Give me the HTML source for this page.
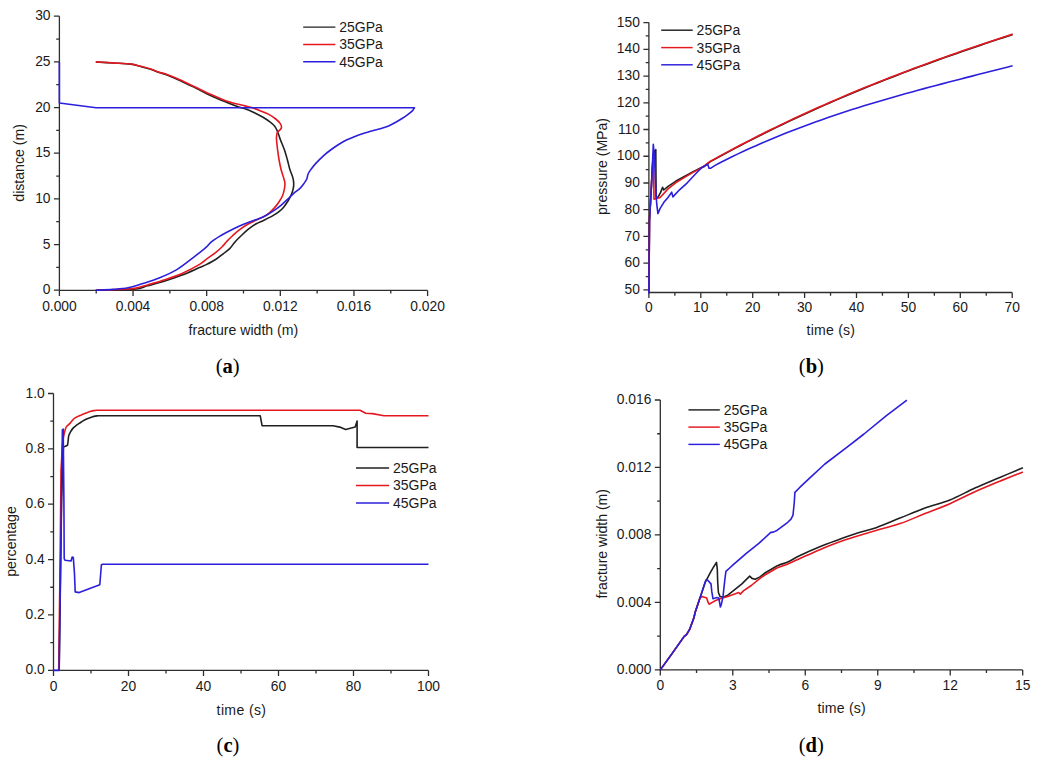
<!DOCTYPE html><html><head><meta charset="utf-8"><style>html,body{margin:0;padding:0;background:#fff;}svg{display:block}text{font-family:"Liberation Sans", sans-serif;fill:#1a1a1a}</style></head><body>
<svg width="1042" height="768" viewBox="0 0 1042 768">
<path d="M59.4,16.2 L59.4,290.4 L427.6,290.4 M59.4,290.4 v5.5 M133.04,290.4 v5.5 M206.68,290.4 v5.5 M280.32,290.4 v5.5 M353.96,290.4 v5.5 M427.6,290.4 v5.5 M96.22,290.4 v3.2 M169.86,290.4 v3.2 M243.5,290.4 v3.2 M317.14,290.4 v3.2 M390.78,290.4 v3.2 M59.4,290.2 h-5.5 M59.4,244.53 h-5.5 M59.4,198.87 h-5.5 M59.4,153.2 h-5.5 M59.4,107.53 h-5.5 M59.4,61.87 h-5.5 M59.4,16.2 h-5.5 M59.4,267.37 h-3.2 M59.4,221.7 h-3.2 M59.4,176.03 h-3.2 M59.4,130.37 h-3.2 M59.4,84.7 h-3.2 M59.4,39.03 h-3.2" fill="none" stroke="#2e2e2e" stroke-width="1.3"/>
<text x="59.4" y="310.7" text-anchor="middle" font-size="13.8" >0.000</text>
<text x="133.04" y="310.7" text-anchor="middle" font-size="13.8" >0.004</text>
<text x="206.68" y="310.7" text-anchor="middle" font-size="13.8" >0.008</text>
<text x="280.32" y="310.7" text-anchor="middle" font-size="13.8" >0.012</text>
<text x="353.96" y="310.7" text-anchor="middle" font-size="13.8" >0.016</text>
<text x="427.6" y="310.7" text-anchor="middle" font-size="13.8" >0.020</text>
<text x="50.5" y="294.3" text-anchor="end" font-size="13.8" >0</text>
<text x="50.5" y="248.63" text-anchor="end" font-size="13.8" >5</text>
<text x="50.5" y="202.97" text-anchor="end" font-size="13.8" >10</text>
<text x="50.5" y="157.3" text-anchor="end" font-size="13.8" >15</text>
<text x="50.5" y="111.63" text-anchor="end" font-size="13.8" >20</text>
<text x="50.5" y="65.97" text-anchor="end" font-size="13.8" >25</text>
<text x="50.5" y="20.3" text-anchor="end" font-size="13.8" >30</text>
<path d="M95.8,62 C98.67,62.17 107.18,62.65 113,63 C118.82,63.35 126.22,63.55 130.7,64.1 C135.18,64.65 136.7,65.47 139.9,66.3 C143.1,67.13 146.7,68.05 149.9,69.1 C153.1,70.15 156.58,71.75 159.1,72.6 C161.62,73.45 161.45,72.85 165,74.2 C168.55,75.55 175.28,78.4 180.4,80.7 C185.52,83 190.58,85.5 195.7,88 C200.82,90.5 205.98,93.33 211.1,95.7 C216.22,98.07 221.8,100.33 226.4,102.2 C231,104.07 235.47,105.78 238.7,106.9 C241.93,108.02 243.18,107.93 245.8,108.9 C248.42,109.87 251.53,111.3 254.4,112.7 C257.27,114.1 260.42,115.77 263,117.3 C265.58,118.83 267.98,120.47 269.9,121.9 C271.82,123.33 273.35,124.57 274.5,125.9 C275.65,127.23 276.12,128.47 276.8,129.9 C277.48,131.33 277.98,132.82 278.6,134.5 C279.22,136.18 279.53,137.45 280.5,140 C281.47,142.55 283.27,146.55 284.4,149.8 C285.53,153.05 286.4,156.25 287.3,159.5 C288.2,162.75 288.9,166.37 289.8,169.3 C290.7,172.23 292.05,174.82 292.7,177.1 C293.35,179.38 293.62,181.05 293.7,183 C293.78,184.95 293.61,186.85 293.2,188.8 C292.79,190.75 292.07,192.75 291.25,194.7 C290.43,196.65 289.61,198.38 288.3,200.5 C286.99,202.62 284.9,205.6 283.4,207.4 C281.9,209.2 280.98,209.97 279.3,211.3 C277.62,212.63 275.85,213.92 273.3,215.4 C270.75,216.88 266.84,218.81 264,220.2 C261.16,221.59 258.85,222.25 256.25,223.75 C253.65,225.25 250.88,227.24 248.4,229.2 C245.93,231.16 243.6,233.42 241.4,235.5 C239.2,237.58 237.15,239.52 235.2,241.7 C233.25,243.88 231.67,246.62 229.7,248.6 C227.73,250.58 225.75,251.78 223.4,253.6 C221.05,255.42 218.46,257.67 215.6,259.5 C212.74,261.33 208.95,263.25 206.25,264.6 C203.55,265.95 203.43,265.85 199.4,267.6 C195.38,269.35 187.85,272.88 182.1,275.1 C176.35,277.32 170.65,279.12 164.9,280.9 C159.15,282.68 152.42,284.45 147.6,285.8 C142.78,287.15 141.27,288.3 136,289 C130.73,289.7 122.7,289.78 116,290 C109.3,290.22 99.17,290.25 95.8,290.3" fill="none" stroke="#202020" stroke-width="1.6" stroke-linejoin="round" stroke-linecap="butt"/>
<path d="M95.8,61.9 C98.67,62.07 107.18,62.55 113,62.9 C118.82,63.25 126.22,63.47 130.7,64 C135.18,64.53 136.7,65.3 139.9,66.1 C143.1,66.9 146.7,67.77 149.9,68.8 C153.1,69.83 156.58,71.47 159.1,72.3 C161.62,73.13 161.45,72.52 165,73.8 C168.55,75.08 175.28,77.75 180.4,80 C185.52,82.25 190.58,84.87 195.7,87.3 C200.82,89.73 205.98,92.3 211.1,94.6 C216.22,96.9 222.25,99.57 226.4,101.1 C230.55,102.63 232.9,103 236,103.8 C239.1,104.6 242.42,105.27 245,105.9 C247.58,106.53 248.98,106.8 251.5,107.6 C254.02,108.4 257.22,109.57 260.1,110.7 C262.98,111.83 266.2,113.02 268.8,114.4 C271.4,115.78 273.78,117.47 275.7,119 C277.62,120.53 279.33,122.2 280.3,123.6 C281.27,125 281.57,126.35 281.5,127.4 C281.43,128.45 280.58,129.08 279.9,129.9 C279.22,130.72 277.97,131.15 277.4,132.3 C276.83,133.45 276.63,135.43 276.5,136.8 C276.37,138.17 276.42,138.33 276.6,140.5 C276.78,142.67 277.2,146.63 277.6,149.8 C278,152.97 278.43,156.25 279,159.5 C279.57,162.75 280.27,166.37 281,169.3 C281.73,172.23 282.75,174.82 283.4,177.1 C284.05,179.38 284.73,181.05 284.9,183 C285.07,184.95 284.8,186.68 284.4,188.8 C284,190.92 283.47,193.42 282.5,195.7 C281.53,197.98 279.92,200.52 278.6,202.5 C277.28,204.48 276.24,205.78 274.6,207.6 C272.96,209.42 270.77,211.77 268.75,213.4 C266.73,215.03 264.84,216.17 262.5,217.4 C260.16,218.63 257.3,219.58 254.7,220.8 C252.1,222.02 249.52,223.15 246.9,224.7 C244.28,226.25 241.35,228.3 239,230.1 C236.65,231.9 234.75,233.7 232.8,235.5 C230.85,237.3 229.12,238.98 227.3,240.9 C225.48,242.82 223.85,245.05 221.9,247 C219.95,248.95 217.95,250.75 215.6,252.6 C213.25,254.45 210.47,256.13 207.8,258.1 C205.13,260.07 203.88,261.85 199.6,264.4 C195.32,266.95 187.88,270.85 182.1,273.4 C176.32,275.95 170.65,277.78 164.9,279.7 C159.15,281.62 152.42,283.5 147.6,284.9 C142.78,286.3 139.85,287.4 136,288.1 C132.15,288.8 131.2,288.73 124.5,289.1 C117.8,289.47 100.58,290.1 95.8,290.3" fill="none" stroke="#e5171f" stroke-width="1.6" stroke-linejoin="round" stroke-linecap="butt"/>
<path d="M59.4,62 L59.4,103 L96.1,107.7 L414.5,107.7 L414.5,107.7 C414.1,108.27 413.28,109.92 412.1,111.1 C410.92,112.28 409.08,113.57 407.4,114.8 C405.72,116.03 404.02,117.22 402,118.5 C399.98,119.78 397.53,121.27 395.3,122.5 C393.07,123.73 390.83,124.95 388.6,125.9 C386.37,126.85 384.13,127.53 381.9,128.2 C379.67,128.87 377.45,129.28 375.2,129.9 C372.95,130.52 370.65,131.22 368.4,131.9 C366.15,132.58 363.93,133.23 361.7,134 C359.47,134.77 357.47,135.53 355,136.5 C352.53,137.47 349.57,138.52 346.9,139.8 C344.23,141.08 341.61,142.58 339,144.2 C336.39,145.82 333.85,147.57 331.25,149.5 C328.65,151.43 326.01,153.45 323.4,155.8 C320.79,158.15 317.8,161.17 315.6,163.6 C313.4,166.03 311.48,168.58 310.2,170.4 C308.92,172.22 308.47,173.07 307.9,174.5 C307.33,175.93 307.47,177.48 306.8,179 C306.13,180.52 305.03,182.05 303.9,183.6 C302.77,185.15 301.62,186.75 300,188.3 C298.38,189.85 296.32,191.02 294.2,192.9 C292.08,194.78 289.67,197.38 287.3,199.6 C284.93,201.82 282.18,204.4 280,206.2 C277.82,208 276.47,208.9 274.2,210.4 C271.93,211.9 269,213.82 266.4,215.2 C263.8,216.58 261.2,217.67 258.6,218.7 C256,219.73 253.4,220.43 250.8,221.4 C248.2,222.37 245.6,223.4 243,224.5 C240.4,225.6 237.82,226.75 235.2,228 C232.58,229.25 229.92,230.6 227.3,232 C224.68,233.4 222.1,234.78 219.5,236.4 C216.9,238.02 213.91,239.9 211.7,241.7 C209.49,243.5 208.2,245.43 206.25,247.2 C204.3,248.97 202.11,250.62 200,252.3 C197.89,253.98 197.53,254.37 193.6,257.3 C189.67,260.23 182.15,266.45 176.4,269.9 C170.65,273.35 164.87,275.68 159.1,278 C153.33,280.32 146.98,282.17 141.8,283.8 C136.62,285.43 132.8,286.87 128,287.8 C123.2,288.73 118.37,288.98 113,289.4 C107.63,289.82 98.67,290.15 95.8,290.3" fill="none" stroke="#2c1fdc" stroke-width="1.6" stroke-linejoin="round" stroke-linecap="butt"/>
<path d="M303.2,27.1 H335.4" stroke="#202020" stroke-width="1.45"/>
<text x="339.2" y="32" text-anchor="start" font-size="14.0" >25GPa</text>
<path d="M303.2,44.4 H335.4" stroke="#e5171f" stroke-width="1.45"/>
<text x="339.2" y="49.3" text-anchor="start" font-size="14.0" >35GPa</text>
<path d="M303.2,61.7 H335.4" stroke="#2c1fdc" stroke-width="1.45"/>
<text x="339.2" y="66.6" text-anchor="start" font-size="14.0" >45GPa</text>
<text x="243.4" y="334.6" text-anchor="middle" font-size="14.1" >fracture width (m)</text>
<text x="0" y="0" text-anchor="middle" font-size="14.1" transform="translate(24.4,162.9) rotate(-90)">distance (m)</text>
<text x="227.7" y="373" text-anchor="middle" style="font-family:'Liberation Serif', serif;font-size:20.5px;fill:#000">(<tspan style="font-weight:bold">a</tspan>)</text>
<path d="M648.9,22.6 L648.9,292.5 L1012.2,292.5 M648.9,292.5 v5.5 M700.8,292.5 v5.5 M752.7,292.5 v5.5 M804.6,292.5 v5.5 M856.5,292.5 v5.5 M908.4,292.5 v5.5 M960.3,292.5 v5.5 M1012.2,292.5 v5.5 M674.85,292.5 v3.2 M726.75,292.5 v3.2 M778.65,292.5 v3.2 M830.55,292.5 v3.2 M882.45,292.5 v3.2 M934.35,292.5 v3.2 M986.25,292.5 v3.2 M648.9,289.9 h-5.5 M648.9,263.17 h-5.5 M648.9,236.44 h-5.5 M648.9,209.71 h-5.5 M648.9,182.98 h-5.5 M648.9,156.25 h-5.5 M648.9,129.52 h-5.5 M648.9,102.79 h-5.5 M648.9,76.06 h-5.5 M648.9,49.33 h-5.5 M648.9,22.6 h-5.5 M648.9,276.53 h-3.2 M648.9,249.8 h-3.2 M648.9,223.07 h-3.2 M648.9,196.34 h-3.2 M648.9,169.61 h-3.2 M648.9,142.88 h-3.2 M648.9,116.15 h-3.2 M648.9,89.42 h-3.2 M648.9,62.69 h-3.2 M648.9,35.96 h-3.2" fill="none" stroke="#2e2e2e" stroke-width="1.3"/>
<text x="648.9" y="312.3" text-anchor="middle" font-size="13.8" >0</text>
<text x="700.8" y="312.3" text-anchor="middle" font-size="13.8" >10</text>
<text x="752.7" y="312.3" text-anchor="middle" font-size="13.8" >20</text>
<text x="804.6" y="312.3" text-anchor="middle" font-size="13.8" >30</text>
<text x="856.5" y="312.3" text-anchor="middle" font-size="13.8" >40</text>
<text x="908.4" y="312.3" text-anchor="middle" font-size="13.8" >50</text>
<text x="960.3" y="312.3" text-anchor="middle" font-size="13.8" >60</text>
<text x="1012.2" y="312.3" text-anchor="middle" font-size="13.8" >70</text>
<text x="639.9" y="294" text-anchor="end" font-size="13.8" >50</text>
<text x="639.9" y="267.27" text-anchor="end" font-size="13.8" >60</text>
<text x="639.9" y="240.54" text-anchor="end" font-size="13.8" >70</text>
<text x="639.9" y="213.81" text-anchor="end" font-size="13.8" >80</text>
<text x="639.9" y="187.08" text-anchor="end" font-size="13.8" >90</text>
<text x="639.9" y="160.35" text-anchor="end" font-size="13.8" >100</text>
<text x="639.9" y="133.62" text-anchor="end" font-size="13.8" >110</text>
<text x="639.9" y="106.89" text-anchor="end" font-size="13.8" >120</text>
<text x="639.9" y="80.16" text-anchor="end" font-size="13.8" >130</text>
<text x="639.9" y="53.43" text-anchor="end" font-size="13.8" >140</text>
<text x="639.9" y="26.7" text-anchor="end" font-size="13.8" >150</text>
<path d="M648.9,292.5 L649.5,220 L651.2,190.4 L652.3,168.2 L653.1,156 L654.4,151.5 L655.8,149.6 L656.1,197.2 L657.9,197.3 L660.6,192.4 L662.6,187.3 L663.7,190 L667.8,186.6 L675.6,181.3 L683.4,177 L691.25,172.8 L699,168.7 L704,166.2 L704,166.65 L710,161.92 L716,158.6 L722,155.32 L728,152.09 L734,148.89 L740,145.74 L746,142.62 L752,139.54 L758,136.5 L764,133.49 L770,130.53 L776,127.6 L782,124.7 L788,121.84 L794,119.01 L800,116.22 L806,113.46 L812,110.73 L818,108.03 L824,105.37 L830,102.74 L836,100.14 L842,97.56 L848,95.02 L854,92.51 L860,90.02 L866,87.56 L872,85.13 L878,82.72 L884,80.35 L890,77.99 L896,75.66 L902,73.36 L908,71.08 L914,68.82 L920,66.59 L926,64.38 L932,62.18 L938,60.01 L944,57.87 L950,55.74 L956,53.63 L962,51.53 L968,49.46 L974,47.41 L980,45.37 L986,43.35 L992,41.34 L998,39.35 L1004,37.38 L1010,35.41 L1012.6,34.57" fill="none" stroke="#202020" stroke-width="1.6" stroke-linejoin="round" stroke-linecap="butt"/>
<path d="M648.9,292.5 L649.5,220 L651.2,190.4 L652.3,168.2 L653,161.5 L653.6,160.8 L654,199.3 L657.3,198.3 L659.8,197.8 L661.5,196 L667.8,189.1 L675.6,182.8 L683.4,178.1 L691.25,173.4 L699,169.1 L704,166.2 L704,166.2 L710,161.47 L716,158.15 L722,154.87 L728,151.64 L734,148.44 L740,145.29 L746,142.17 L752,139.09 L758,136.05 L764,133.04 L770,130.08 L776,127.15 L782,124.25 L788,121.39 L794,118.56 L800,115.77 L806,113.01 L812,110.28 L818,107.58 L824,104.92 L830,102.29 L836,99.69 L842,97.11 L848,94.57 L854,92.06 L860,89.57 L866,87.11 L872,84.68 L878,82.27 L884,79.9 L890,77.54 L896,75.21 L902,72.91 L908,70.63 L914,68.37 L920,66.14 L926,63.93 L932,61.73 L938,59.56 L944,57.42 L950,55.29 L956,53.18 L962,51.08 L968,49.01 L974,46.96 L980,44.92 L986,42.9 L992,40.89 L998,38.9 L1004,36.93 L1010,34.96 L1012.6,34.12" fill="none" stroke="#e5171f" stroke-width="1.6" stroke-linejoin="round" stroke-linecap="butt"/>
<path d="M648.9,293.8 L649.5,220 L651.2,190.4 L652.3,168.2 L653.3,144.4 L654.5,157.2 L655.6,184.9 L656.7,203.7 L657.9,213.7 L660,208.6 L663.9,202.3 L667.8,197.7 L671.7,192.2 L672.9,196.9 L679.5,189.8 L687.3,182.8 L695.2,174.2 L701.4,168 L707.7,164.1 L709,168.2 L710.5,168.3 L710.5,168.3 L714.7,165.6 L720,162.68 L726,159.68 L732,156.75 L738,153.88 L744,151.08 L750,148.33 L756,145.65 L762,143.02 L768,140.46 L774,137.94 L780,135.48 L786,133.07 L792,130.72 L798,128.41 L804,126.15 L810,123.94 L816,121.77 L822,119.64 L828,117.56 L834,115.51 L840,113.51 L846,111.54 L852,109.61 L858,107.71 L864,105.84 L870,104.01 L876,102.2 L882,100.42 L888,98.67 L894,96.95 L900,95.24 L906,93.56 L912,91.91 L918,90.26 L924,88.64 L930,87.03 L936,85.44 L942,83.86 L948,82.29 L954,80.74 L960,79.19 L966,77.64 L972,76.11 L978,74.57 L984,73.04 L990,71.51 L996,69.98 L1002,68.45 L1008,66.91 L1012.6,65.73" fill="none" stroke="#2c1fdc" stroke-width="1.6" stroke-linejoin="round" stroke-linecap="butt"/>
<path d="M661.2,30.2 H692.7" stroke="#202020" stroke-width="1.45"/>
<text x="696.6" y="35.1" text-anchor="start" font-size="14.0" >25GPa</text>
<path d="M661.2,47.6 H692.7" stroke="#e5171f" stroke-width="1.45"/>
<text x="696.6" y="52.5" text-anchor="start" font-size="14.0" >35GPa</text>
<path d="M661.2,64.8 H692.7" stroke="#2c1fdc" stroke-width="1.45"/>
<text x="696.6" y="69.7" text-anchor="start" font-size="14.0" >45GPa</text>
<text x="830.9" y="335.3" text-anchor="middle" font-size="14.1" letter-spacing="0.2">time (s)</text>
<text x="0" y="0" text-anchor="middle" font-size="14.1" transform="translate(606.8,166.5) rotate(-90)">pressure (MPa)</text>
<text x="811.4" y="373" text-anchor="middle" style="font-family:'Liberation Serif', serif;font-size:20.5px;fill:#000">(<tspan style="font-weight:bold">b</tspan>)</text>
<path d="M53.5,393.5 L53.5,670.4 L428.5,670.4 M53.5,670.4 v5.5 M128.5,670.4 v5.5 M203.5,670.4 v5.5 M278.5,670.4 v5.5 M353.5,670.4 v5.5 M428.5,670.4 v5.5 M91,670.4 v3.2 M166,670.4 v3.2 M241,670.4 v3.2 M316,670.4 v3.2 M391,670.4 v3.2 M53.5,670.3 h-5.5 M53.5,614.94 h-5.5 M53.5,559.58 h-5.5 M53.5,504.22 h-5.5 M53.5,448.86 h-5.5 M53.5,393.5 h-5.5 M53.5,642.62 h-3.2 M53.5,587.26 h-3.2 M53.5,531.9 h-3.2 M53.5,476.54 h-3.2 M53.5,421.18 h-3.2" fill="none" stroke="#2e2e2e" stroke-width="1.3"/>
<text x="53.5" y="690.5" text-anchor="middle" font-size="13.8" >0</text>
<text x="128.5" y="690.5" text-anchor="middle" font-size="13.8" >20</text>
<text x="203.5" y="690.5" text-anchor="middle" font-size="13.8" >40</text>
<text x="278.5" y="690.5" text-anchor="middle" font-size="13.8" >60</text>
<text x="353.5" y="690.5" text-anchor="middle" font-size="13.8" >80</text>
<text x="428.5" y="690.5" text-anchor="middle" font-size="13.8" >100</text>
<text x="44.8" y="674.4" text-anchor="end" font-size="13.8" >0.0</text>
<text x="44.8" y="619.04" text-anchor="end" font-size="13.8" >0.2</text>
<text x="44.8" y="563.68" text-anchor="end" font-size="13.8" >0.4</text>
<text x="44.8" y="508.32" text-anchor="end" font-size="13.8" >0.6</text>
<text x="44.8" y="452.96" text-anchor="end" font-size="13.8" >0.8</text>
<text x="44.8" y="397.6" text-anchor="end" font-size="13.8" >1.0</text>
<path d="M59.2,670.4 L61.6,500 L63.4,446.9 L66.1,446.1 L67.6,445 L68.2,440.5 L68.2,440.5 C68.28,439.73 68.32,437.35 68.7,435.9 C69.08,434.45 69.77,433.1 70.5,431.8 C71.23,430.5 72.18,429.13 73.1,428.1 C74.02,427.07 74.97,426.38 76,425.6 C77.03,424.82 78.13,424.18 79.3,423.4 C80.47,422.62 81.68,421.67 83,420.9 C84.32,420.12 85.7,419.42 87.2,418.75 C88.7,418.08 90.18,417.41 92,416.9 C93.82,416.39 97.08,415.9 98.1,415.7 L98.1,415.7 L260.2,415.7 L262.1,425.7 L333.1,425.7 L339.8,427.1 L345.6,429.6 L355.2,427.1 L357.1,421.1 L357.1,447.5 L428.5,447.5" fill="none" stroke="#202020" stroke-width="1.6" stroke-linejoin="round" stroke-linecap="butt"/>
<path d="M58.7,670.4 L60.25,549 L61,471 L62.4,445 L62.4,445 C62.62,443.48 63.27,438.32 63.7,435.9 C64.13,433.48 64.53,432.05 65,430.5 C65.47,428.95 65.67,427.78 66.5,426.6 C67.33,425.42 68.77,424.71 70,423.4 C71.23,422.09 72.65,419.88 73.9,418.75 C75.15,417.62 76.2,417.26 77.5,416.6 C78.8,415.94 80.28,415.38 81.7,414.8 C83.12,414.22 84.45,413.68 86,413.1 C87.55,412.52 89.67,411.72 91,411.3 C92.33,410.88 92.95,410.78 94,410.6 C95.05,410.42 96.75,410.27 97.3,410.2 L97.3,410.2 L360,410.2 L365.7,413.2 L372.4,413.6 L384,415.7 L428.5,415.7" fill="none" stroke="#e5171f" stroke-width="1.6" stroke-linejoin="round" stroke-linecap="butt"/>
<path d="M53.5,670.4 L59.1,670.4 L62.4,429.6 L63.2,429.2 L63.9,500 L64.2,558.6 L65.1,560.3 L71,561 L72.2,557 L73.3,557.5 L74.5,573.9 L75.2,591.9 L79.2,592.6 L88.5,589.1 L99.8,584.8 L101.4,564.8 L102.6,564.2 L428.5,564.2" fill="none" stroke="#2c1fdc" stroke-width="1.6" stroke-linejoin="round" stroke-linecap="butt"/>
<path d="M356,467.9 H389.1" stroke="#202020" stroke-width="1.45"/>
<text x="393" y="472.8" text-anchor="start" font-size="14.0" >25GPa</text>
<path d="M356,485.5 H389.1" stroke="#e5171f" stroke-width="1.45"/>
<text x="393" y="490.4" text-anchor="start" font-size="14.0" >35GPa</text>
<path d="M356,503 H389.1" stroke="#2c1fdc" stroke-width="1.45"/>
<text x="393" y="507.9" text-anchor="start" font-size="14.0" >45GPa</text>
<text x="241.5" y="714.6" text-anchor="middle" font-size="14.1" letter-spacing="0.35">time (s)</text>
<text x="0" y="0" text-anchor="middle" font-size="14.1" transform="translate(15.8,541.5) rotate(-90)">percentage</text>
<text x="228" y="751.6" text-anchor="middle" style="font-family:'Liberation Serif', serif;font-size:20.5px;fill:#000">(<tspan style="font-weight:bold">c</tspan>)</text>
<path d="M660.3,400 L660.3,669.9 L1022.7,669.9 M660.3,669.9 v5.5 M732.78,669.9 v5.5 M805.26,669.9 v5.5 M877.74,669.9 v5.5 M950.22,669.9 v5.5 M1022.7,669.9 v5.5 M696.54,669.9 v3.2 M769.02,669.9 v3.2 M841.5,669.9 v3.2 M913.98,669.9 v3.2 M986.46,669.9 v3.2 M660.3,669.9 h-5.5 M660.3,602.42 h-5.5 M660.3,534.95 h-5.5 M660.3,467.47 h-5.5 M660.3,400 h-5.5 M660.3,636.16 h-3.2 M660.3,568.69 h-3.2 M660.3,501.21 h-3.2 M660.3,433.74 h-3.2" fill="none" stroke="#2e2e2e" stroke-width="1.3"/>
<text x="660.3" y="690" text-anchor="middle" font-size="13.8" >0</text>
<text x="732.78" y="690" text-anchor="middle" font-size="13.8" >3</text>
<text x="805.26" y="690" text-anchor="middle" font-size="13.8" >6</text>
<text x="877.74" y="690" text-anchor="middle" font-size="13.8" >9</text>
<text x="950.22" y="690" text-anchor="middle" font-size="13.8" >12</text>
<text x="1022.7" y="690" text-anchor="middle" font-size="13.8" >15</text>
<text x="651.4" y="674" text-anchor="end" font-size="13.8" >0.000</text>
<text x="651.4" y="606.52" text-anchor="end" font-size="13.8" >0.004</text>
<text x="651.4" y="539.05" text-anchor="end" font-size="13.8" >0.008</text>
<text x="651.4" y="471.57" text-anchor="end" font-size="13.8" >0.012</text>
<text x="651.4" y="404.1" text-anchor="end" font-size="13.8" >0.016</text>
<path d="M660.3,669.9 L671.5,654.4 L684.2,636.4 L686.5,634.6 L689.5,629.7 L694,617.5 L695,612.8 L699.7,598.75 L702.8,589.4 L705.2,582.3 L710.6,572.2 L713.75,566.7 L716.5,562.4 L717.3,569.1 L717.7,582.3 L718.4,592.5 L720,596.4 L723.1,597.2 L727.8,595.2 L734.1,590.2 L741.9,583.9 L749.7,576.1 L752,578.4 L755.2,579.2 L760,576.9 L765.6,572.5 L765.6,572.5 C767.77,571.3 774.91,567.03 778.6,565.3 C782.29,563.57 784.18,563.73 787.75,562.1 C791.32,560.47 794.76,558.02 800,555.5 C805.24,552.98 812.8,549.62 819.2,547 C825.6,544.38 832,542.12 838.4,539.8 C844.8,537.48 851.2,535.17 857.6,533.1 C864,531.03 869.73,529.9 876.8,527.4 C883.87,524.9 891.97,521.33 900,518.1 C908.03,514.87 916.68,511.03 925,508 C933.32,504.97 941.58,503.22 949.9,499.9 C958.22,496.58 966.58,491.83 974.9,488.1 C983.22,484.37 991.8,480.9 999.8,477.5 C1007.8,474.1 1019.05,469.33 1022.9,467.7" fill="none" stroke="#202020" stroke-width="1.6" stroke-linejoin="round" stroke-linecap="butt"/>
<path d="M660.3,669.9 L671.5,654.4 L684.2,636.4 L686.5,634.6 L689.5,629.7 L694,617.5 L695,612.8 L699.7,598.75 L702,596.4 L706.7,598 L707.9,601.9 L709.1,604.2 L714.5,601.1 L720,598.75 L727.8,596.4 L738.75,592.5 L740.3,594.1 L743.4,590.9 L751.25,585.5 L760,578.4 L765.6,574.5 L765.6,574.5 C767.77,573.3 774.91,569.05 778.6,567.3 C782.29,565.55 784.18,565.47 787.75,564 C791.32,562.53 794.76,560.85 800,558.5 C805.24,556.15 812.8,552.62 819.2,549.9 C825.6,547.18 832,544.52 838.4,542.2 C844.8,539.88 851.2,538 857.6,536 C864,534 869.73,532.27 876.8,530.2 C883.87,528.13 891.97,526.37 900,523.6 C908.03,520.83 916.68,516.92 925,513.6 C933.32,510.28 941.58,507.33 949.9,503.7 C958.22,500.07 966.58,495.55 974.9,491.8 C983.22,488.05 991.8,484.52 999.8,481.2 C1007.8,477.88 1019.05,473.45 1022.9,471.9" fill="none" stroke="#e5171f" stroke-width="1.6" stroke-linejoin="round" stroke-linecap="butt"/>
<path d="M660.3,669.9 L671.5,654.4 L684.2,636.4 L686.5,634.6 L689.5,629.7 L694,617.5 L695,612.8 L699.7,598.75 L702.8,589.4 L705.9,580 L707.5,580 L711,583.9 L711.8,591.7 L713,598.75 L716.9,597.6 L718.8,598 L720.4,607 L721.6,603.4 L723.1,595.6 L724.7,580.8 L725.9,571.4 L730.2,567.5 L733,564.9 L746,553.6 L759.1,543.2 L770.8,532.4 L773.4,532.1 L777.3,530.2 L787.75,522.3 L791,519.1 L793,515.2 L794.3,502.1 L794.9,492.4 L800,487.2 L808,479.6 L824.9,464 L847.1,447.1 L864,434 L886.1,415.8 L906.9,400.2" fill="none" stroke="#2c1fdc" stroke-width="1.6" stroke-linejoin="round" stroke-linecap="butt"/>
<path d="M688.4,409.9 H719.8" stroke="#202020" stroke-width="1.45"/>
<text x="723.8" y="414.8" text-anchor="start" font-size="14.0" >25GPa</text>
<path d="M688.4,427.1 H719.8" stroke="#e5171f" stroke-width="1.45"/>
<text x="723.8" y="432" text-anchor="start" font-size="14.0" >35GPa</text>
<path d="M688.4,444.4 H719.8" stroke="#2c1fdc" stroke-width="1.45"/>
<text x="723.8" y="449.3" text-anchor="start" font-size="14.0" >45GPa</text>
<text x="841.7" y="713.2" text-anchor="middle" font-size="14.1" letter-spacing="0.2">time (s)</text>
<text x="0" y="0" text-anchor="middle" font-size="14.1" transform="translate(606.5,543.8) rotate(-90)">fracture width (m)</text>
<text x="811.2" y="751.6" text-anchor="middle" style="font-family:'Liberation Serif', serif;font-size:20.5px;fill:#000">(<tspan style="font-weight:bold">d</tspan>)</text>
</svg></body></html>
